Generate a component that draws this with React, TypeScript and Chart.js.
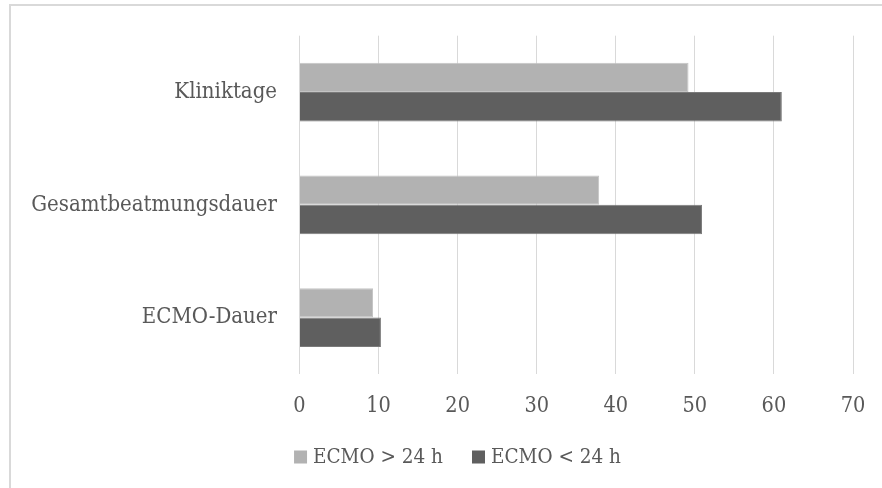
import React, { useEffect, useRef } from "react";
import { Chart, registerables } from "chart.js";

Chart.register(...registerables);

// Mean durations in days for the two patient groups
const categories = ["Kliniktage", "Gesamtbeatmungsdauer", "ECMO-Dauer"];
const seriesLabels = ["ECMO > 24 h", "ECMO < 24 h"];
const ecmoOver24 = [49.2, 37.9, 9.3];
const ecmoUnder24 = [61.0, 50.9, 10.3];
const xTicks = [0, 10, 20, 30, 40, 50, 60, 70];

const FONT = "'DejaVu Serif Condensed', 'DejaVu Serif', serif";
const TEXT = "#595959";

// Legend row drawn under the axis, centred on the chart frame
const bottomLegend = {
  id: "bottomLegend",
  afterDraw(chart: any) {
    const ctx = chart.ctx as CanvasRenderingContext2D;
    const datasets = chart.data.datasets;
    const box = 13;
    const gap = 6;
    const itemGap = 29;
    const centerX = 457.5;
    const centerY = 458;
    ctx.save();
    ctx.font = `20.5px ${FONT}`;
    ctx.textBaseline = "middle";
    const widths = datasets.map((d: any) => ctx.measureText(d.label).width);
    const total =
      widths.reduce((a: number, w: number) => a + box + gap + w, 0) +
      itemGap * (datasets.length - 1);
    let x = centerX - total / 2;
    datasets.forEach((d: any, i: number) => {
      ctx.fillStyle = d.backgroundColor;
      ctx.fillRect(x, centerY - box / 2 - 1, box, box);
      x += box + gap;
      ctx.fillStyle = TEXT;
      ctx.fillText(d.label, x, centerY);
      x += widths[i] + itemGap;
    });
    ctx.restore();
  },
};

export default function App() {
  const canvasRef = useRef<HTMLCanvasElement | null>(null);

  useEffect(() => {
    const canvas = canvasRef.current;
    if (!canvas) return;
    const chart = new Chart(canvas, {
      type: "bar",
      data: {
        labels: categories,
        datasets: [
          {
            label: seriesLabels[0],
            data: ecmoOver24,
            backgroundColor: "#b2b2b2",
            borderColor: "#c4c4c4",
            borderWidth: 1,
            categoryPercentage: 0.52,
            barPercentage: 1,
          },
          {
            label: seriesLabels[1],
            data: ecmoUnder24,
            backgroundColor: "#5f5f5f",
            borderColor: "#7a7a7a",
            borderWidth: 1,
            categoryPercentage: 0.52,
            barPercentage: 1,
          },
        ],
      },
      options: {
        indexAxis: "y",
        responsive: false,
        animation: false,
        layout: { padding: { left: 12, right: 29, top: 34, bottom: 70 } },
        scales: {
          x: {
            min: 0,
            max: 70,
            afterBuildTicks: (scale: any) => {
              scale.ticks = xTicks.map((v) => ({ value: v }));
            },
            afterFit: (scale: any) => {
              scale.height = 44;
              scale.paddingLeft = 0;
              scale.paddingRight = 0;
            },
            grid: { color: "#d9d9d9", lineWidth: 1, drawTicks: false },
            border: { display: false },
            ticks: {
              color: TEXT,
              padding: 20,
              font: { family: FONT, size: 21.5 },
            },
          },
          y: {
            afterFit: (scale: any) => {
              scale.width = 287.5;
            },
            grid: { display: false, drawTicks: false },
            border: { display: false },
            ticks: {
              color: TEXT,
              padding: 22.5,
              font: { family: FONT, size: 22 },
            },
          },
        },
        plugins: {
          legend: { display: false },
          tooltip: { enabled: false },
        },
      },
      plugins: [bottomLegend],
    });
    return () => chart.destroy();
  }, []);

  return (
    <div
      style={{
        position: "fixed",
        left: 0,
        top: 0,
        width: 882,
        height: 488,
        background: "#ffffff",
        overflow: "hidden",
      }}
    >
      <div
        style={{
          position: "absolute",
          left: 9,
          top: 4,
          width: 873,
          height: 2,
          background: "#d9d9d9",
        }}
      />
      <div
        style={{
          position: "absolute",
          left: 9,
          top: 4,
          width: 2,
          height: 484,
          background: "#d9d9d9",
        }}
      />
      <canvas
        ref={canvasRef}
        width={882}
        height={488}
        style={{ position: "absolute", left: 0, top: 0, width: 882, height: 488 }}
      />
    </div>
  );
}
